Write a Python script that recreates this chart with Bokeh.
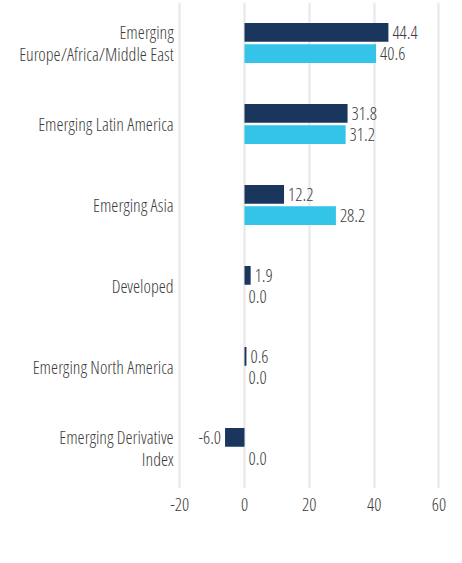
from bokeh.plotting import figure
from bokeh.models import ColumnDataSource, Range1d, FactorRange, FixedTicker, Legend, LegendItem
from bokeh.transform import dodge
from bokeh.core.properties import value
from bokeh.embed import file_html
from bokeh.resources import INLINE

categories = ["Emerging Europe/Africa/Middle East", "Emerging Latin America", "Emerging Asia",
              "Developed", "Emerging North America", "Emerging Derivative Index"]
category_labels = ["Emerging\nEurope/Africa/Middle East", "Emerging Latin America", "Emerging Asia",
                   "Developed", "Emerging North America", "Emerging Derivative\nIndex"]
fund = [44.4, 31.8, 12.2, 1.9, 0.6, -6.0]
benchmark = [40.6, 31.2, 28.2, 0.0, 0.0, 0.0]
x_ticks = [-20, 0, 20, 40, 60]
x_tick_labels = ["-20", "0", "20", "40", "60"]

FONT = "Open Sans Condensed Light"
FS = "18px"
FUND_C = "#1B365D"
BENCH_C = "#34C4E8"
TXT = "#3C3C3C"

src = ColumnDataSource(dict(
    cat=categories, cat_lbl=category_labels, fund=fund, bench=benchmark,
    bench_lbl=[f"{v:.1f}" for v in benchmark],
    bench_pos=[max(v, 0) for v in benchmark],
    axis_left=[min(x_ticks)] * len(categories),
))
neg_idx = [i for i, v in enumerate(fund) if v < 0]
pos_idx = [i for i, v in enumerate(fund) if v >= 0]
src_fpos = ColumnDataSource(dict(cat=[categories[i] for i in pos_idx], x=[fund[i] for i in pos_idx],
                                 lbl=[f"{fund[i]:.1f}" for i in pos_idx]))
src_fneg = ColumnDataSource(dict(cat=[categories[i] for i in neg_idx], x=[fund[i] for i in neg_idx],
                                 lbl=[f"{fund[i]:.1f}" for i in neg_idx]))

p = figure(frame_width=462, frame_height=486, output_backend="svg", toolbar_location=None,
           y_range=FactorRange(factors=categories[::-1]), x_range=Range1d(-75.28, 67.26),
           y_axis_location=None,
           min_border_left=0, min_border_right=0, min_border_top=2, min_border_bottom=0)
p.outline_line_color = None

OFF = 0.132
H = 0.231
r_f = p.hbar(y=dodge("cat", OFF, range=p.y_range), right="fund", left=0, height=H, source=src,
             color=FUND_C, line_color=None)
r_b = p.hbar(y=dodge("cat", -OFF, range=p.y_range), right="bench", left=0, height=H, source=src,
             color=BENCH_C, line_color=None)

common = dict(text_baseline="middle", text_font=value(FONT), text_font_size=FS, text_color=TXT)
p.text(x="x", y=dodge("cat", OFF, range=p.y_range), text="lbl", source=src_fpos, x_offset=4,
       text_align="left", **common)
p.text(x="x", y=dodge("cat", OFF, range=p.y_range), text="lbl", source=src_fneg, x_offset=-4,
       text_align="right", **common)
p.text(x="bench_pos", y=dodge("cat", -OFF, range=p.y_range), text="bench_lbl", source=src, x_offset=4,
       text_align="left", **common)
# category labels
p.text(x="axis_left", y="cat", text="cat_lbl", source=src, x_offset=-6, text_align="right",
       text_line_height=0.95, **common)

p.ygrid.grid_line_color = None
p.xgrid.ticker = FixedTicker(ticks=x_ticks)
p.xgrid.grid_line_color = "#EBEBEB"
p.xgrid.grid_line_width = 2.5
p.xaxis.ticker = FixedTicker(ticks=x_ticks)
ax = p.xaxis[0]
ax.axis_line_color = None
ax.major_tick_line_color = None
ax.minor_tick_line_color = None
ax.major_label_text_font = FONT
ax.major_label_text_font_size = FS
ax.major_label_text_color = TXT
ax.major_label_standoff = 3
ax.major_label_overrides = dict(zip(x_ticks, x_tick_labels))

legend = Legend(items=[LegendItem(label="Fund", renderers=[r_f]),
                       LegendItem(label="Benchmark", renderers=[r_b])],
                orientation="horizontal", location=(16, 12),
                glyph_width=17, glyph_height=17, label_standoff=7, spacing=65,
                padding=0, margin=0, border_line_color=None, background_fill_alpha=0,
                label_text_font=FONT, label_text_font_size=FS, label_text_color=TXT)
p.add_layout(legend, "below")

open("out.html", "w").write(file_html(p, INLINE))
